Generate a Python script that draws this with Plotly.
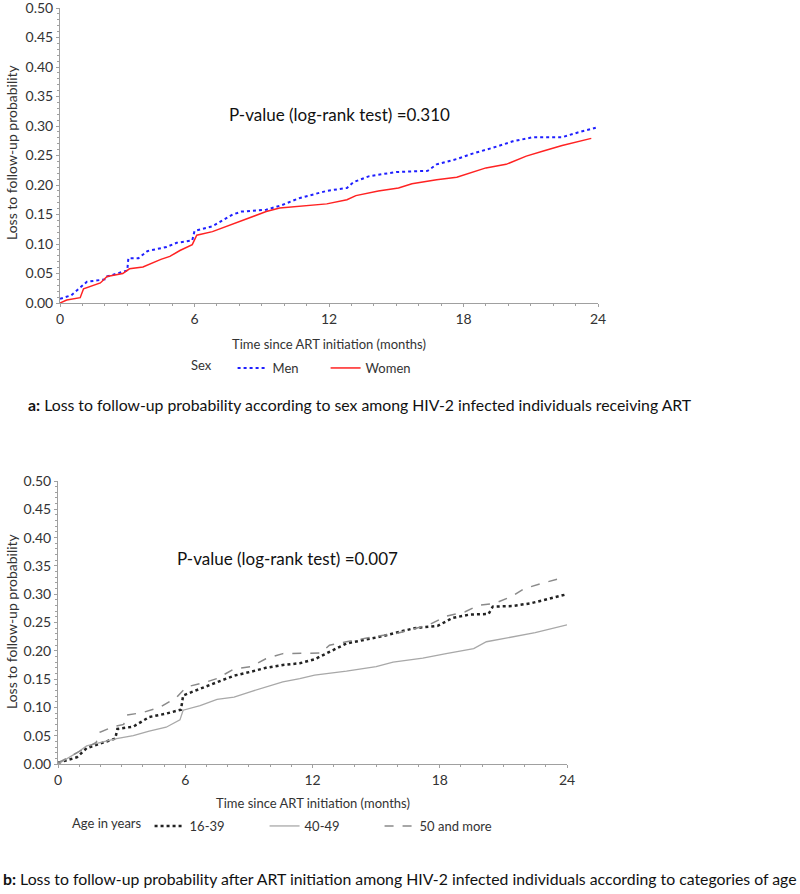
import plotly.graph_objects as go

# ---------------- data ----------------
months_ticks = [0, 6, 12, 18, 24]
prob_ticks = [0.00, 0.05, 0.10, 0.15, 0.20, 0.25, 0.30, 0.35, 0.40, 0.45, 0.50]

men_t = [0, 0.5, 1.2, 2.0, 2.1, 3.0, 3.05, 3.5, 3.9, 4.76, 5.2, 5.9, 6.0, 6.8, 7.7, 8.1,
         9.2, 9.9, 10.7, 11.9, 12.8, 13.1, 13.8, 15.0, 16.4, 16.8, 17.7, 18.3, 19.3, 20.2,
         21.1, 22.4, 23.1, 23.9]
men_p = [0.007, 0.013, 0.036, 0.040, 0.045, 0.055, 0.076, 0.076, 0.088, 0.095, 0.102, 0.106,
         0.122, 0.130, 0.150, 0.155, 0.158, 0.166, 0.178, 0.190, 0.195, 0.205, 0.215, 0.222,
         0.224, 0.235, 0.244, 0.252, 0.263, 0.274, 0.281, 0.281, 0.289, 0.297]

women_t = [0, 0.3, 0.9, 1.05, 1.8, 2.1, 2.8, 3.1, 3.7, 4.5, 4.9, 5.35, 5.9, 6.1, 6.8, 7.7,
           8.3, 9.2, 9.8, 10.7, 11.9, 12.8, 13.2, 14.2, 15.1, 15.7, 16.8, 17.7, 18.4, 19.0,
           19.9, 20.8, 21.6, 22.4, 23.7]
women_p = [0.000, 0.005, 0.009, 0.024, 0.034, 0.045, 0.050, 0.058, 0.061, 0.074, 0.079, 0.089,
           0.099, 0.115, 0.121, 0.134, 0.143, 0.155, 0.161, 0.164, 0.168, 0.175, 0.182, 0.190,
           0.195, 0.202, 0.209, 0.213, 0.222, 0.229, 0.235, 0.249, 0.258, 0.267, 0.279]

age1_t = [0, 0.9, 1.35, 1.97, 2.7, 2.8, 3.55, 4.3, 5.1, 5.8, 5.9, 6.7, 7.5, 8.3, 9.1, 9.8,
          10.6, 11.4, 12.1, 12.8, 13.6, 15.2, 16.8, 17.9, 18.6, 19.4, 20.3, 20.5, 21.4, 22.3,
          23.2, 24.0]
age1_p = [0.002, 0.012, 0.028, 0.036, 0.045, 0.062, 0.066, 0.083, 0.089, 0.096, 0.121, 0.133,
          0.145, 0.156, 0.163, 0.170, 0.175, 0.178, 0.185, 0.198, 0.213, 0.225, 0.240, 0.244,
          0.258, 0.264, 0.265, 0.278, 0.279, 0.284, 0.293, 0.300]

age2_t = [0, 0.9, 1.35, 1.97, 2.76, 3.55, 4.3, 5.1, 5.75, 5.9, 6.7, 7.5, 8.3, 9.1, 9.8, 10.6,
          11.4, 12.1, 13.6, 15.0, 15.8, 17.2, 18.3, 19.6, 20.2, 21.4, 22.5, 24.0]
age2_p = [0.000, 0.020, 0.032, 0.038, 0.045, 0.050, 0.058, 0.065, 0.078, 0.095, 0.103, 0.114,
          0.118, 0.128, 0.136, 0.145, 0.151, 0.157, 0.164, 0.172, 0.180, 0.187, 0.195, 0.204,
          0.216, 0.225, 0.232, 0.246]

age3_t = [0, 0.9, 1.8, 1.97, 2.6, 3.1, 3.2, 4.0, 4.8, 5.6, 6.05, 7.0, 7.5, 8.3, 9.1, 9.8,
          10.6, 12.4, 12.8, 13.6, 14.9, 16.0, 17.5, 18.3, 19.2, 19.8, 20.6, 21.4, 22.0, 22.9,
          23.8]
age3_p = [0.002, 0.020, 0.038, 0.056, 0.066, 0.070, 0.086, 0.091, 0.100, 0.118, 0.136, 0.145,
          0.151, 0.168, 0.172, 0.186, 0.195, 0.196, 0.210, 0.216, 0.225, 0.231, 0.246, 0.261,
          0.269, 0.280, 0.284, 0.296, 0.310, 0.320, 0.329]

sex_names = ["Men", "Women"]
age_names = ["16-39", "40-49", "50 and more"]
pval_a = "P-value (log-rank test) =0.310"
pval_b = "P-value (log-rank test) =0.007"
x_title = "Time since ART initiation (months)"
y_title = "Loss to follow-up probability"
caption_a = "<b>a:</b> Loss to follow-up probability according to sex among HIV-2 infected individuals receiving ART"
caption_b = "<b>b:</b> Loss to follow-up probability after ART initiation among HIV-2 infected individuals according to categories of age"

# ---------------- figure ----------------
W, H = 800, 894
FONT = "Lato, 'Open Sans', sans-serif"
TXT = "#333333"
AX = "#a0a0a0"


def px_x(p):
    return p / W


def px_y(p):
    return 1 - p / H


fig = go.Figure()

fig.add_trace(go.Scatter(x=men_t, y=men_p, name=sex_names[0], mode="lines",
                         line=dict(color="#1f1fff", width=2, dash="dot"),
                         xaxis="x", yaxis="y", legend="legend"))
fig.add_trace(go.Scatter(x=women_t, y=women_p, name=sex_names[1], mode="lines",
                         line=dict(color="#ff2222", width=1.5),
                         xaxis="x", yaxis="y", legend="legend"))

fig.add_trace(go.Scatter(x=age1_t, y=age1_p, name=age_names[0], mode="lines",
                         line=dict(color="#222222", width=2.5, dash="dot"),
                         xaxis="x2", yaxis="y2", legend="legend2"))
fig.add_trace(go.Scatter(x=age2_t, y=age2_p, name=age_names[1], mode="lines",
                         line=dict(color="#a8a8a8", width=1.3),
                         xaxis="x2", yaxis="y2", legend="legend2"))
fig.add_trace(go.Scatter(x=age3_t, y=age3_p, name=age_names[2], mode="lines",
                         line=dict(color="#8a8a8a", width=1.5, dash="dash"),
                         xaxis="x2", yaxis="y2", legend="legend2"))

xcommon = dict(range=[0, 24], tickvals=months_ticks, ticks="outside", ticklen=3, tickcolor=AX,
               showline=True, linecolor=AX, linewidth=1, showgrid=False, zeroline=False,
               automargin=False, ticklabeloverflow="allow",
               tickfont=dict(family=FONT, size=14, color=TXT),
               minor=dict(dtick=1, ticks="outside", ticklen=2, tickcolor=AX, showgrid=False))
ycommon = dict(range=[0, 0.5], tickvals=prob_ticks, tickformat=".2f", ticks="outside", ticklen=3,
               tickcolor=AX, showline=True, linecolor=AX, linewidth=1, showgrid=False,
               zeroline=False, automargin=False, ticklabeloverflow="allow",
               tickfont=dict(family=FONT, size=14, color=TXT),
               minor=dict(dtick=0.01, ticks="outside", ticklen=2, tickcolor=AX, showgrid=False))

fig.update_layout(
    width=W, height=H, margin=dict(l=0, r=0, t=0, b=0, autoexpand=False),
    paper_bgcolor="white", plot_bgcolor="white",
    font=dict(family=FONT, color=TXT),
    xaxis=dict(domain=[px_x(60), px_x(598)], anchor="y", **xcommon),
    yaxis=dict(domain=[px_y(303), px_y(8)], anchor="x", **ycommon),
    xaxis2=dict(domain=[px_x(58), px_x(567)], anchor="y2", **xcommon),
    yaxis2=dict(domain=[px_y(764), px_y(481)], anchor="x2", **ycommon),
    legend=dict(orientation="h", x=px_x(189), y=px_y(368), xanchor="left", yanchor="middle",
                title=dict(text="Sex    ", side="left", font=dict(size=13, family=FONT, color=TXT)),
                font=dict(size=13, family=FONT, color=TXT), bgcolor="rgba(0,0,0,0)",
                entrywidth=48, entrywidthmode="pixels", itemwidth=30),
    legend2=dict(orientation="h", x=px_x(70), y=px_y(826), xanchor="left", yanchor="middle",
                 title=dict(text="Age in years", side="left", font=dict(size=13, family=FONT, color=TXT)),
                 font=dict(size=13, family=FONT, color=TXT), bgcolor="rgba(0,0,0,0)",
                 entrywidth=70, entrywidthmode="pixels", itemwidth=30),
    showlegend=True,
)


def note(text, x, y, size, color=TXT, xanchor="center", angle=0):
    return dict(text=text, x=px_x(x), y=px_y(y), xref="paper", yref="paper",
                xanchor=xanchor, yanchor="middle", textangle=angle, showarrow=False,
                font=dict(size=size, family=FONT, color=color))


ann = [
    note(pval_a, 339, 115, 17, "#111"),
    note(pval_b, 287, 558, 17, "#111"),
    note(x_title, 329, 344, 13),
    note(x_title, 313, 803, 13),
    note(y_title, 11, 152, 14, angle=-90),
    note(y_title, 11, 621, 14, angle=-90),
    note(caption_a, 26, 405, 15.8, "#111", xanchor="left"),
    note(caption_b, 1, 878, 15.8, "#111", xanchor="left"),
]
fig.update_layout(annotations=ann)

fig.write_html("out.html", config={"displayModeBar": False},
               post_script="document.body.style.margin='0px';document.body.style.padding='0px';")
